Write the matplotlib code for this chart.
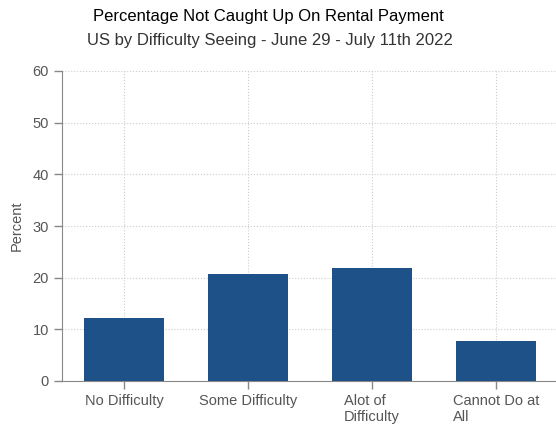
import matplotlib
matplotlib.use('Agg')
import matplotlib.pyplot as plt

categories = ['No Difficulty', 'Some Difficulty', 'Alot of\nDifficulty', 'Cannot Do at\nAll']
percent = [12.1, 20.7, 21.8, 7.8]
yticks = [0, 10, 20, 30, 40, 50, 60]

plt.rcParams['font.family'] = ['Liberation Sans', 'DejaVu Sans']

fig = plt.figure(figsize=(5.56, 4.24), dpi=100)
ax = fig.add_axes([62 / 556, 1 - 381 / 424, 496 / 556, 310 / 424])

x = list(range(len(categories)))
ax.bar(x, percent, width=0.65, color='#1f5189', zorder=3)

ax.set_xlim(-0.5, 3.5)
ax.set_ylim(0, 60)
ax.set_yticks(yticks)
ax.set_xticks(x)
ax.set_xticklabels(categories, ha='center', multialignment='left')

ax.tick_params(axis='both', colors='#888888', labelcolor='#555555', labelsize=10.5, length=6, width=1)
ax.grid(True, linestyle=':', color='#cccccc', linewidth=0.8, zorder=0)

for s in ['top', 'right']:
    ax.spines[s].set_visible(False)
for s in ['left', 'bottom']:
    ax.spines[s].set_color('#888888')

ax.set_ylabel('Percent', color='#555555', fontsize=10.5, labelpad=6)

fig.text(268 / 556, 1 - 16 / 424, 'Percentage Not Caught Up On Rental Payment', ha='center', va='center', fontsize=12, color='black')
fig.text(270 / 556, 1 - 41 / 424, 'US by Difficulty Seeing - June 29 - July 11th 2022', ha='center', va='center', fontsize=12, color='#333333')

fig.savefig('out.png', dpi=100)
